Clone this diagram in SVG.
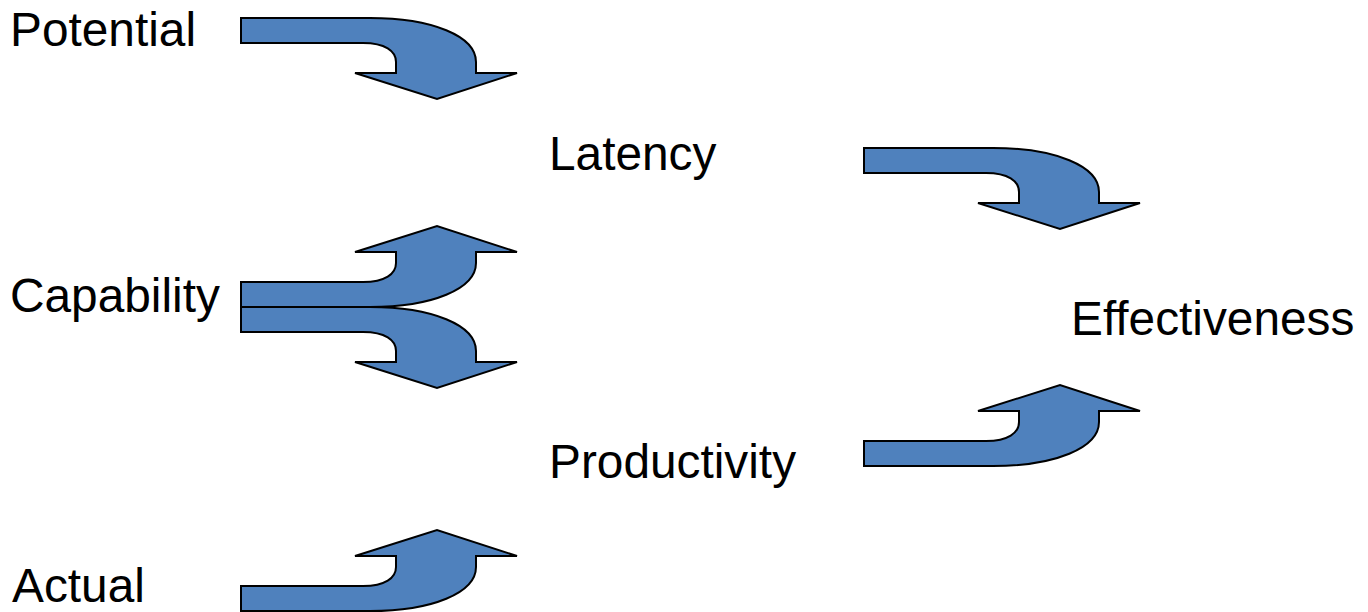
<svg xmlns="http://www.w3.org/2000/svg" xmlns:xlink="http://www.w3.org/1999/xlink" width="1368" height="612" viewBox="0 0 1368 612">
<style>
.lbl{font-family:"Liberation Sans",Arial,sans-serif;font-size:47.8px;fill:#000}
.arr{fill:#4F81BD;stroke:#000;stroke-width:2;stroke-linejoin:miter}
</style>
<defs>
<path id="down" d="M241,18 L370,18 C432,18 476,36 476,62 L476,73 L517,73 L437,99 L355,73 L396,73 L396,62 C396,51 385,43 363,43 L241,43 Z"/>
</defs>
<rect width="1368" height="612" fill="#fff"/>
<g id="connectors">
<use class="arr" xlink:href="#down"/>
<use class="arr" xlink:href="#down" transform="matrix(1,0,0,-1,0,325)"/>
<use class="arr" xlink:href="#down" transform="translate(0,289)"/>
<use class="arr" xlink:href="#down" transform="matrix(1,0,0,-1,0,629)"/>
<use class="arr" xlink:href="#down" transform="translate(623,130)"/>
<use class="arr" xlink:href="#down" transform="matrix(1,0,0,-1,623,484)"/>
</g>
<g id="potential"><text class="lbl" x="10" y="46">Potential</text></g>
<g id="capability"><text class="lbl" x="10" y="312">Capability</text></g>
<g id="actual"><text class="lbl" x="12" y="602">Actual</text></g>
<g id="latency"><text class="lbl" x="549" y="170">Latency</text></g>
<g id="productivity"><text class="lbl" x="549" y="478">Productivity</text></g>
<g id="effectiveness"><text class="lbl" x="1071" y="335">Effectiveness</text></g>
</svg>
